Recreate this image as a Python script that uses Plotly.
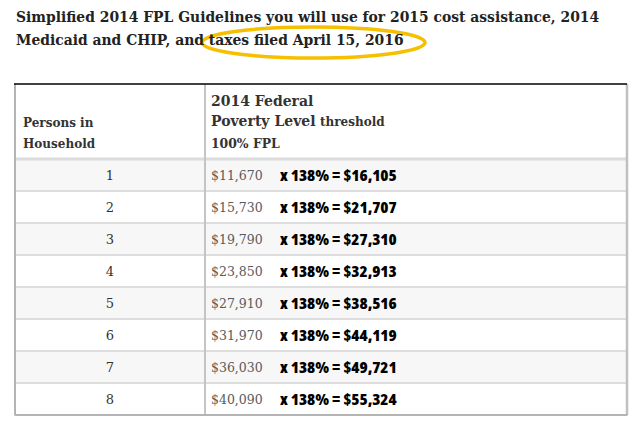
import plotly.graph_objects as go

# ---- data ----
persons = [1, 2, 3, 4, 5, 6, 7, 8]
fpl_100 = [11670, 15730, 19790, 23850, 27910, 31970, 36030, 40090]
pct_label = "138%"
fpl_138 = [16105, 21707, 27310, 32913, 38516, 44119, 49721, 55324]
title_lines = [
    "Simplified 2014 FPL Guidelines you will use for 2015 cost assistance, 2014",
    "Medicaid and CHIP, and taxes filed April 15, 2016",
]
header_left = ["Persons in", "Household"]
header_right = ["2014 Federal", "Poverty Level", "threshold", "100% FPL"]

# ---- layout helpers (pixel -> row units on y axis) ----
W, H = 640, 428
ROW_PX = 32
ROW1_CENTER = 175
TEXT_DROP_PX = 2  # cell text sits slightly below the row centre


def py(px):
    return (px - ROW1_CENTER) / ROW_PX + 1


SERIF = "DejaVu Serif, Liberation Serif, serif"
NARROW = "Open Sans, DejaVu Sans, sans-serif"

TL, TR, COLDIV = 15, 627, 205
TOP_PX, HDR_BOT_PX, BOT_PX = 84, 159, 415

fig = go.Figure()

# row backgrounds (alternating)
fills = ["#f7f7f7" if p % 2 == 1 else "#ffffff" for p in persons]
fig.add_trace(go.Bar(
    y=persons, x=[TR - TL] * len(persons), base=TL, orientation="h", width=1,
    marker=dict(color=fills, line=dict(color="#dedede", width=2)),
    hoverinfo="skip", showlegend=False,
))

# column 1: persons
fig.add_trace(go.Scatter(
    x=[(TL + COLDIV) / 2] * len(persons), y=persons, mode="text", yaxis="y2",
    text=[str(p) for p in persons], textposition="middle center",
    textfont=dict(family=SERIF, size=13, color="#333333"),
    hoverinfo="skip", showlegend=False,
))

# column 2: 100% FPL amounts
fig.add_trace(go.Scatter(
    x=[211] * len(persons), y=persons, mode="text", yaxis="y2",
    text=[f"${v:,}" for v in fpl_100], textposition="middle right",
    textfont=dict(family=SERIF, size=12.5, color="#5a5a5a"),
    hoverinfo="skip", showlegend=False,
))

# column 2: x 138% = amount
fig.add_trace(go.Scatter(
    x=[280] * len(persons), y=persons, mode="text", yaxis="y2",
    text=[f"<span style='font-stretch:75%'>x {pct_label} = ${v:,}</span>" for v in fpl_138],
    textposition="middle right",
    textfont=dict(family=NARROW, size=16.5, color="#000000", weight=800),
    hoverinfo="skip", showlegend=False,
))

shapes = [
    dict(type="line", x0=TL, x1=TR, y0=py(HDR_BOT_PX), y1=py(HDR_BOT_PX),
         line=dict(color="#dcdcdc", width=3)),
    dict(type="line", x0=COLDIV, x1=COLDIV, y0=py(TOP_PX), y1=py(BOT_PX),
         line=dict(color="#c4c4c4", width=2)),
    dict(type="line", x0=TL, x1=TL, y0=py(TOP_PX), y1=py(BOT_PX),
         line=dict(color="#b4b4b4", width=2)),
    dict(type="line", x0=TR, x1=TR, y0=py(TOP_PX), y1=py(BOT_PX),
         line=dict(color="#c0c0c0", width=2.5)),
    dict(type="line", x0=TL, x1=TR, y0=py(BOT_PX), y1=py(BOT_PX),
         line=dict(color="#b4b4b4", width=2)),
    dict(type="line", x0=TL - 1, x1=TR, y0=py(TOP_PX), y1=py(TOP_PX),
         line=dict(color="#000000", width=1.5)),
    # highlight ellipse
    dict(type="circle", x0=202, x1=425, y0=py(27), y1=py(58),
         line=dict(color="#f6c000", width=3.5), layer="above"),
]

ann = []


def add_text(text, x, base_px, size, color="#222222", bold=True):
    ann.append(dict(
        text=f"<b>{text}</b>" if bold else text, x=x, y=py(base_px - 0.35 * size),
        xref="x", yref="y", xanchor="left", yanchor="middle", showarrow=False,
        font=dict(family=SERIF, size=size, color=color),
    ))


add_text(title_lines[0], 14, 21.7, 13.9)
add_text(title_lines[1], 14, 45, 13.9)
add_text(header_left[0], 21, 127, 12, "#333333")
add_text(header_left[1], 21, 148, 12, "#333333")
add_text(header_right[0], 209, 105.7, 14, "#333333")
add_text(f"<b>{header_right[1]}</b> <b><span style='font-size:12px'>{header_right[2]}</span></b>",
         209, 125.7, 14, "#333333", bold=False)
add_text(header_right[3], 209, 148, 12.4, "#333333")

shift = TEXT_DROP_PX / ROW_PX
fig.update_layout(
    width=W, height=H, margin=dict(l=0, r=0, t=0, b=0),
    paper_bgcolor="white", plot_bgcolor="white",
    xaxis=dict(range=[0, W], visible=False, fixedrange=True),
    yaxis=dict(range=[py(H), py(0)], visible=False, fixedrange=True),
    yaxis2=dict(range=[py(H) - shift, py(0) - shift], visible=False,
                fixedrange=True, overlaying="y"),
    shapes=shapes, annotations=ann, bargap=0,
)

fig.write_html("out.html", config={"displayModeBar": False},
               post_script="document.body.style.margin='0';")
